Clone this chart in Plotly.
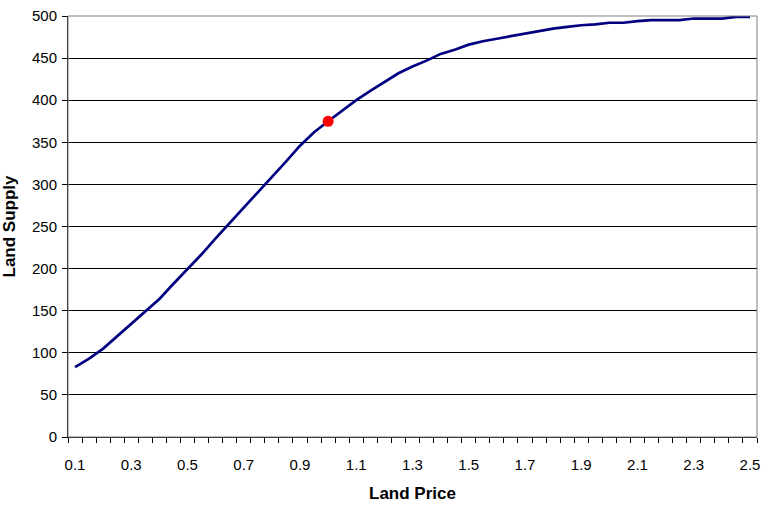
import plotly.graph_objects as go

land_price = [round(0.1 + 0.05 * i, 2) for i in range(49)]
land_supply = [83, 93, 105, 120, 135, 149, 164, 182, 199, 217,
               236, 254, 272, 291, 309, 327, 346, 362, 375, 388,
               400, 411, 422, 432, 440, 447, 455, 460, 466, 470,
               473, 476, 479, 482, 485, 487, 489, 490, 492, 492,
               494, 495, 495, 495, 497, 497, 497, 499, 499]
point_price = [1.0]
point_supply = [375]
x_tick_vals = [0.1, 0.3, 0.5, 0.7, 0.9, 1.1, 1.3, 1.5, 1.7, 1.9, 2.1, 2.3, 2.5]
x_tick_text = ["0.1", "0.3", "0.5", "0.7", "0.9", "1.1", "1.3", "1.5", "1.7", "1.9", "2.1", "2.3", "2.5"]
y_tick_vals = [0, 50, 100, 150, 200, 250, 300, 350, 400, 450, 500]

font_family = "Liberation Sans, Arial, sans-serif"

fig = go.Figure()
fig.add_trace(go.Scatter(x=land_price, y=land_supply, mode="lines",
                         line=dict(color="#000080", width=2.7), showlegend=False))
fig.add_trace(go.Scatter(x=point_price, y=point_supply, mode="markers",
                         marker=dict(color="#ff0000", size=11), showlegend=False))

fig.add_shape(type="rect", xref="paper", yref="paper", x0=0, x1=1, y0=0, y1=1,
              line=dict(color="#808080", width=1), layer="above")

fig.update_layout(
    width=767, height=507,
    margin=dict(l=68, r=7, t=13, b=67),
    paper_bgcolor="white", plot_bgcolor="white",
    font=dict(family=font_family, size=15, color="black"),
    xaxis=dict(
        range=[0.075, 2.525],
        tickmode="array", tickvals=x_tick_vals, ticktext=x_tick_text,
        ticks="", showgrid=False, zeroline=False,
        showline=True, linecolor="black", linewidth=1,
        ticklabelstandoff=14,
        minor=dict(tick0=0.075, dtick=0.05, ticks="outside", ticklen=5,
                   tickcolor="black", showgrid=False),
        title=dict(text="<b>Land Price</b>", font=dict(size=17), standoff=15),
        tickfont=dict(size=15),
    ),
    yaxis=dict(
        range=[0, 500],
        tickmode="array", tickvals=y_tick_vals,
        ticks="outside", ticklen=5, tickcolor="black",
        ticklabelstandoff=2,
        showgrid=True, gridcolor="black", gridwidth=1, zeroline=False,
        showline=True, linecolor="black", linewidth=1,
        title=dict(text="<b>Land Supply</b>", font=dict(size=17), standoff=12),
        tickfont=dict(size=15),
    ),
)

fig.write_html("out.html",
               config={"displayModeBar": False},
               post_script="document.body.style.margin='0';document.body.style.overflow='hidden';")
